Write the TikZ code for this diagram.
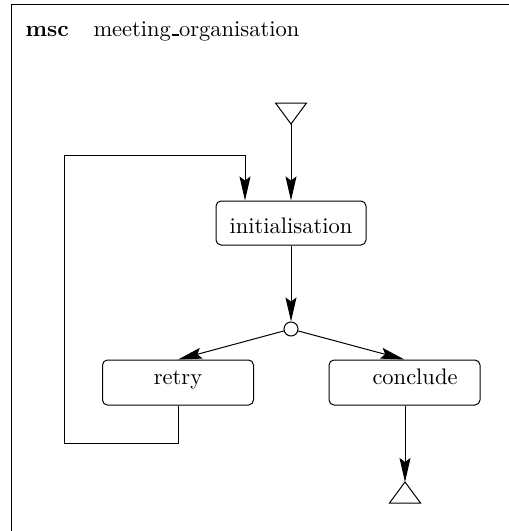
\documentclass[tikz,border=0pt]{standalone}
\usepackage{graphicx}
\usetikzlibrary{arrows.meta}
\newcommand{\lbl}[1]{\scalebox{2.25}{#1}}
\newcommand{\uscore}{\leavevmode\kern.06em\rule{.3em}{.9pt}}
\begin{document}
\begin{tikzpicture}[x=1pt,y=-1pt,
  line width=1pt,
  flow/.style={-{Stealth[length=24pt,width=11pt,inset=4pt]}},
  stepbox/.style={draw,rounded corners=5pt,minimum width=151pt,minimum height=45pt,inner sep=0pt},
  junction/.style={draw,circle,minimum size=14pt,inner sep=0pt,fill=white},
  txt/.style={inner sep=0pt,anchor=base west}]
\useasboundingbox (0,0) rectangle (509,531);
% diagram frame
\draw (11,531) -- (11,4) -- (509,4);
\node[txt] (kw) at (25,36) {\lbl{\textbf{msc}}};
\node[txt] (title) at (93,36) {\lbl{meeting\uscore organisation}};
% nodes
\node[stepbox,minimum width=150pt,minimum height=44pt,text height=20pt,text depth=0pt] (init) at (291,223) {\lbl{initialisation}};
\node[junction] (join) at (291,329) {};
\node[stepbox,text height=10pt,text depth=7pt] (retry) at (178,382.5) {\lbl{retry}};
\node[stepbox,text height=10pt,text depth=7pt] (conclude) at (404.5,382.5) {\hspace*{21pt}\lbl{conclude}};
% start and end symbols
\coordinate (start) at (291,124);
\draw (start) -- ++(-15.5,-21) -- ++(31,0) -- cycle;
\coordinate (stop) at (405,482);
\draw (stop) -- ++(-15.5,21) -- ++(31,0) -- cycle;
% connectors
\draw[flow] (start) -- (init.north);
\draw[flow] (init.south) -- (join.north);
\draw[flow] (join) -- (retry.north);
\draw[flow] (join) -- (conclude.north);
\draw[flow] (conclude.south -| stop) -- (stop);
\coordinate (loopbot) at (64,443);
\coordinate (looptop) at (245,155);
\draw[flow] (retry.south) |- (loopbot) |- (looptop) -- (looptop |- init.north);
\end{tikzpicture}
\end{document}
